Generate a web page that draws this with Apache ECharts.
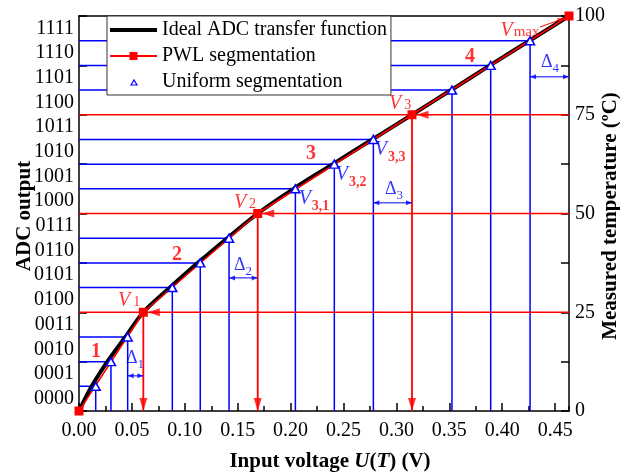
<!DOCTYPE html>
<html><head><meta charset="utf-8">
<script src="https://cdn.jsdelivr.net/npm/echarts@6/dist/echarts.min.js"></script>
<style>html,body{margin:0;padding:0;background:#fff}#c{width:620px;height:475px}</style>
</head><body><div id="c"></div>
<script>
// ---------- data ----------
const adcCodes = ['0000','0001','0010','0011','0100','0101','0110','0111','1000','1001','1010','1011','1100','1101','1110','1111'];
const xTickLabels = ['0.00','0.05','0.10','0.15','0.20','0.25','0.30','0.35','0.40','0.45'];
const tempTickLabels = ['0','25','50','75','100'];
const idealU = [0, 0.0120, 0.0268, 0.0438, 0.0608, 0.0860, 0.1123, 0.1401, 0.1689, 0.2027, 0.2399, 0.2772, 0.3147, 0.3517, 0.3884, 0.4257, 0.4631];
const idealT = [0, 6.25, 12.5, 18.75, 25, 31.25, 37.5, 43.75, 50, 56.25, 62.5, 68.75, 75, 81.25, 87.5, 93.75, 100];
const pwlU = [0, 0.0608, 0.1689, 0.3147, 0.4631];
const pwlT = [0, 25, 50, 75, 100];
const uniU = [0.0158, 0.0302, 0.0460, 0.0882, 0.1146, 0.1418, 0.2045, 0.2413, 0.2782, 0.3525, 0.3891, 0.4263];
const uniT = [6.25, 12.5, 18.75, 31.25, 37.5, 43.75, 56.25, 62.5, 68.75, 81.25, 87.5, 93.75];
const segmentNames = ['1', '2', '3', '4'];
const pointNames = ['1', '2', '3', 'max'];
const subPointNames = ['3,1', '3,2', '3,3'];
const deltaNames = ['1', '2', '3', '4'];
const legendNames = ['Ideal ADC transfer function', 'PWL segmentation', 'Uniform segmentation'];

// ---------- layout of annotations (positions in data units) ----------
const segLabelPos = [[0.0161, 15.0], [0.0926, 39.5], [0.2193, 65.1], [0.3696, 89.6]];
const vLabelPos = [[0.0473, 27.8], [0.1569, 52.7], [0.3034, 77.7], [0.4168, 96.2]];
const subVLabelPos = [[0.2221, 53.2], [0.2571, 59.2], [0.2940, 65.6]];
const deltaLabelPos = [[0.0530, 12.9], [0.155, 36.5], [0.2977, 55.7], [0.4452, 87.8]];
const deltaArrowT = [8.9, 33.7, 52.7, 84.6];
const vmaxArrow = [[0.4357, 97.2], [0.4594, 99.5]];

const FONT = 'Liberation Serif';
const BLUE = '#0000ff', RED = '#ff0000';
const xMax = pwlU[pwlU.length - 1];

const series = [];
const plain = (data, color, width, z) => ({
  type: 'line', data, symbol: 'none', showSymbol: false, silent: true, animation: false,
  lineStyle: { color, width }, itemStyle: { color }, z, clip: false
});

// blue guide lines for uniform segmentation
uniU.forEach((u, i) => {
  series.push(plain([[0, uniT[i]], [u, uniT[i]], [u, 0]], BLUE, 1.5, 1));
});
// red guide lines at PWL breakpoints
for (let k = 1; k < pwlU.length - 1; k++) {
  series.push(plain([[0, pwlT[k]], [xMax, pwlT[k]]], RED, 1.5, 2));
  series.push(plain([[pwlU[k], pwlT[k]], [pwlU[k], 0]], RED, 1.8, 2));
}
// delta double-arrow shafts
const arrowHeads = [];
deltaArrowT.forEach((t, k) => {
  const a = uniU[3 * k + 2], b = pwlU[k + 1];
  series.push(plain([[a, t], [b, t]], BLUE, 1, 3));
  arrowHeads.push({ value: [a, t], symbolRotate: 90, symbolOffset: [3, 0], symbolSize: [5, 6], itemStyle: { color: BLUE } });
  arrowHeads.push({ value: [b, t], symbolRotate: -90, symbolOffset: [-3, 0], symbolSize: [5, 6], itemStyle: { color: BLUE } });
});
// Vmax pointer
series.push(plain(vmaxArrow, RED, 1, 3));
arrowHeads.push({ value: vmaxArrow[1], symbolRotate: -70, symbolOffset: [-3.5, 1.3], symbolSize: [5, 8], itemStyle: { color: RED } });
// red arrow heads
for (let k = 1; k < pwlU.length - 1; k++) {
  arrowHeads.push({ value: [pwlU[k], 0], symbolRotate: 180, symbolOffset: [0, -6.5], symbolSize: [8, 13], itemStyle: { color: RED } });
  arrowHeads.push({ value: [pwlU[k], pwlT[k]], symbolRotate: 90, symbolOffset: [10.5, 0], symbolSize: [8, 12], itemStyle: { color: RED } });
}

// ideal curve
series.push({
  name: legendNames[0], type: 'line', smooth: 0.3,
  data: idealU.map((u, i) => [u, idealT[i]]), symbol: 'none', showSymbol: false,
  lineStyle: { color: '#000', width: 4 }, itemStyle: { color: '#000' }, z: 4, animation: false
});
// PWL
series.push({
  name: legendNames[1], type: 'line',
  data: pwlU.map((u, i) => [u, pwlT[i]]), symbol: 'rect', symbolSize: 9, showSymbol: true, clip: false,
  lineStyle: { color: RED, width: 1.5 }, itemStyle: { color: RED }, z: 5, animation: false
});
// arrow heads
series.push({
  type: 'scatter', symbol: 'triangle', data: arrowHeads, silent: true, z: 6, animation: false, clip: false
});
// uniform segmentation points
series.push({
  name: legendNames[2], type: 'scatter', symbol: 'triangle', symbolSize: [9, 8],
  data: uniU.map((u, i) => [u, uniT[i]]),
  itemStyle: { color: '#fff', borderColor: BLUE, borderWidth: 1.5, opacity: 1 }, z: 7, animation: false, clip: false
});

// annotation texts
const annot = [];
segmentNames.forEach((s, k) => annot.push({ value: segLabelPos[k], label: { formatter: '{n|' + s + '}' } }));
pointNames.forEach((s, k) => annot.push({ value: vLabelPos[k], label: { formatter: k < 3 ? '{v|V}{sp| }{s|' + s + '}' : '{v|V}{m|' + s + '}' } }));
subPointNames.forEach((s, k) => annot.push({ value: subVLabelPos[k], label: { formatter: '{bv|V}{rs|' + s + '}' } }));
deltaNames.forEach((s, k) => annot.push({ value: deltaLabelPos[k], label: { formatter: '{d|Δ}{ds|' + s + '}' } }));
series.push({
  type: 'scatter', symbolSize: 0, data: annot, silent: true, z: 8, animation: false, clip: false,
  labelLayout: { hideOverlap: false },
  label: {
    show: true, position: 'inside', fontFamily: FONT,
    rich: {
      n: { fontFamily: FONT, fontSize: 20, fontWeight: 'bold', color: RED },
      v: { fontFamily: FONT, fontSize: 20, fontStyle: 'italic', color: RED, lineHeight: 20, verticalAlign: 'top' },
      sp: { fontFamily: FONT, fontSize: 12, color: RED, lineHeight: 12, verticalAlign: 'bottom' },
      s: { fontFamily: FONT, fontSize: 14, color: RED, lineHeight: 14, padding: [0, 0, 2, 0], verticalAlign: 'bottom' },
      m: { fontFamily: FONT, fontSize: 15, color: RED, lineHeight: 15, padding: [0, 0, 1, 1], verticalAlign: 'bottom' },
      bv: { fontFamily: FONT, fontSize: 20, fontStyle: 'italic', color: BLUE, lineHeight: 20, verticalAlign: 'top' },
      rs: { fontFamily: FONT, fontSize: 14, fontWeight: 'bold', color: RED, padding: [11, 0, 0, 1], verticalAlign: 'bottom' },
      d: { fontFamily: FONT, fontSize: 18, color: BLUE, lineHeight: 18, verticalAlign: 'top' },
      ds: { fontFamily: FONT, fontSize: 13, color: BLUE, padding: [9, 0, 0, 0], verticalAlign: 'bottom' }
    }
  }
});

const axisLineStyle = { color: '#000', width: 1.5 };
const option = {
  animation: false,
  backgroundColor: '#fff',
  grid: { left: 79, right: 51, top: 16, bottom: 64, containLabel: false },
  legend: {
    left: 107, top: 16, orient: 'vertical',
    data: [
      { name: legendNames[0], itemStyle: { opacity: 0 }, lineStyle: { color: '#000', width: 4 } },
      { name: legendNames[1] },
      { name: legendNames[2], icon: 'path://M0,0L0,0M47,10L47,10M21,8L24,3L27,8Z', itemStyle: { color: '#fff', borderColor: BLUE, borderWidth: 1.2 } }
    ],
    backgroundColor: '#fff', borderColor: '#333', borderWidth: 1, borderRadius: 0,
    padding: [4, 4, 3, 1], itemGap: 6, itemWidth: 47, itemHeight: 10,
    textStyle: { fontFamily: FONT, fontSize: 20, color: '#000', lineHeight: 20 }
  },
  xAxis: [
    {
      type: 'value', min: 0, max: xMax, interval: 0.05, position: 'bottom',
      axisLine: { onZero: false, lineStyle: axisLineStyle },
      axisTick: { inside: true, length: 8, lineStyle: axisLineStyle },
      axisLabel: { formatter: v => xTickLabels[Math.round(v / 0.05)], showMaxLabel: false, fontFamily: FONT, fontSize: 20, color: '#000', margin: 10 },
      splitLine: { show: false }
    },
    {
      type: 'value', min: 0, max: xMax, interval: 0.025, position: 'bottom',
      axisLine: { show: false }, axisTick: { inside: true, length: 5, lineStyle: axisLineStyle },
      axisLabel: { show: false }, splitLine: { show: false }
    },
    {
      type: 'value', min: 0, max: xMax, position: 'top',
      axisLine: { show: true, onZero: false, lineStyle: axisLineStyle }, axisTick: { show: false },
      axisLabel: { show: false }, splitLine: { show: false }
    }
  ],
  yAxis: [
    {
      type: 'value', min: 0, max: 100, position: 'left',
      axisLine: { show: true, onZero: false, lineStyle: axisLineStyle }, axisTick: { show: false },
      axisLabel: { show: false }, splitLine: { show: false }
    },
    {
      type: 'category', data: adcCodes, position: 'left', boundaryGap: true,
      axisLine: { show: false },
      axisTick: { show: true, inside: true, length: 8, interval: (i) => i % 2 === 0, lineStyle: axisLineStyle },
      axisLabel: { interval: 0, fontFamily: FONT, fontSize: 20, color: '#000', margin: 5 },
      splitLine: { show: false }
    },
    {
      type: 'value', min: 0, max: 100, interval: 12.5, position: 'right',
      axisLine: { show: true, onZero: false, lineStyle: axisLineStyle },
      axisTick: { show: true, inside: true, length: 8, lineStyle: axisLineStyle },
      axisLabel: { formatter: v => (v % 25 === 0 ? tempTickLabels[v / 25] : ''), fontFamily: FONT, fontSize: 20, color: '#000', margin: 6 },
      splitLine: { show: false }
    }
  ],
  graphic: [
    {
      type: 'text', x: 25, y: 216, rotation: Math.PI / 2,
      style: { text: 'ADC output', font: 'bold 21px "Liberation Serif"', fill: '#000', align: 'center', verticalAlign: 'middle' }
    },
    {
      type: 'text', x: 611, y: 216, rotation: Math.PI / 2,
      style: { text: 'Measured temperature (ºC)', font: 'bold 21px "Liberation Serif"', fill: '#000', align: 'center', verticalAlign: 'middle' }
    },
    {
      type: 'text', x: 330, y: 462,
      style: {
        text: '{n|Input voltage }{i|U}{n|(}{i|T}{n|) (V)}', align: 'center', verticalAlign: 'middle',
        font: 'bold 21px "Liberation Serif"', fill: '#000',
        rich: {
          n: { fontFamily: FONT, fontSize: 21, fontWeight: 'bold', fill: '#000' },
          i: { fontFamily: FONT, fontSize: 21, fontWeight: 'bold', fontStyle: 'italic', fill: '#000' }
        }
      }
    }
  ],
  series
};
const chart = echarts.init(document.getElementById('c'), null, { renderer: 'canvas' });
chart.setOption(option);
</script>
</body></html>
